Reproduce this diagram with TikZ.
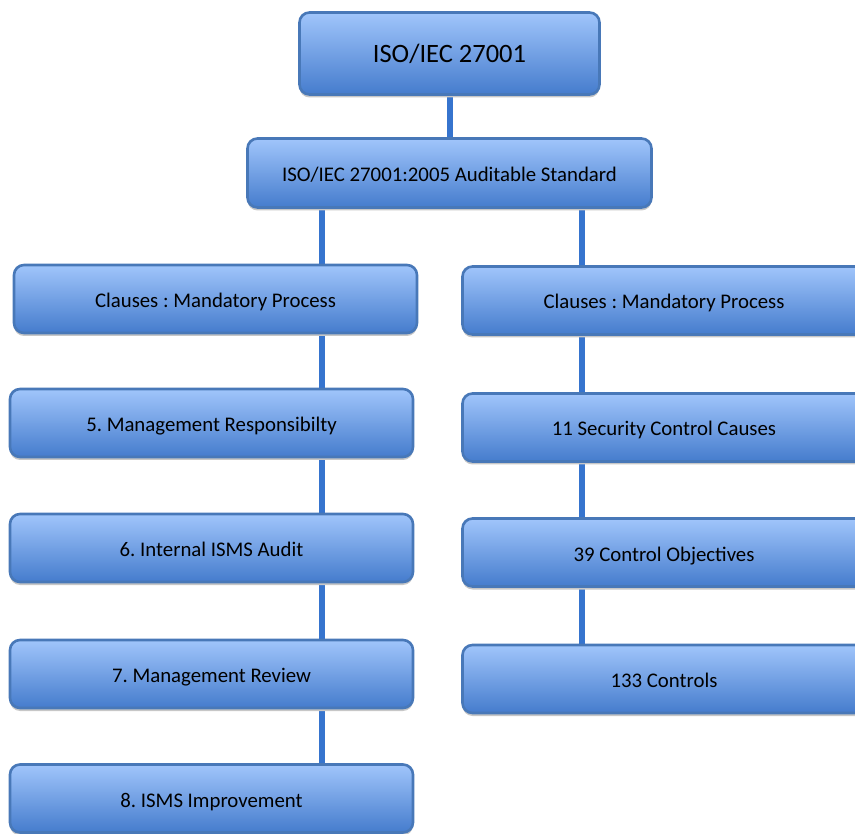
\documentclass[tikz,border=0pt]{standalone}
\usepackage{fontspec}
\setmainfont{Carlito}
\usetikzlibrary{shadows}
\pgfdeclarelayer{back}
\pgfsetlayers{back,main}
\definecolor{boxtop}{HTML}{A0C5FB}
\definecolor{boxbot}{HTML}{457CCD}
\definecolor{boxline}{HTML}{4878B8}
\definecolor{linkblue}{HTML}{3674CE}
\tikzset{
  card/.style={draw=boxline, line width=2.6pt, rounded corners=10pt,
    top color=boxtop, bottom color=boxbot, text=black,
    minimum width=403pt, minimum height=68pt, inner sep=0pt,
    text height=17pt, text depth=0pt,
    font=\fontsize{20.8}{24}\selectfont,
    drop shadow={shadow xshift=0pt, shadow yshift=-3pt, fill=black!22, opacity=1}},
  link/.style={draw=linkblue, line width=6pt, line cap=round}
}
\begin{document}
\frenchspacing
\begin{tikzpicture}[x=1pt, y=-1pt]
\useasboundingbox (0,0) rectangle (855,834);
\clip (0,0) rectangle (855,834);
% top of the hierarchy
\node[card, minimum width=300pt, minimum height=82pt, text height=19pt,
      font=\fontsize{26.5}{30}\selectfont] (std) at (449.5,53.5) {ISO/IEC 27001};
\node[card, minimum width=404pt, minimum height=69pt] (aud) at (449.5,173) {ISO/IEC 27001:2005 Auditable Standard};
% left column: mandatory clauses
\node[card] (l1) at (215.5,299) {Clauses : Mandatory Process};
\node[card] (l2) at (211.5,423) {5. Management Responsibilty};
\node[card] (l3) at (211.5,548) {6. Internal ISMS Audit};
\node[card] (l4) at (211.5,674) {7. Management Review};
\node[card] (l5) at (211.5,798.5) {8. ISMS Improvement};
% right column: controls
\node[card] (r1) at (664,300.5) {Clauses : Mandatory Process};
\node[card] (r2) at (664,427.5) {11 Security Control Causes};
\node[card] (r3) at (664,552.5) {39 Control Objectives};
\node[card] (r4) at (664,679) {133 Controls};
% connectors behind the boxes
\begin{pgfonlayer}{back}
\draw[link] (std.center) -- (aud.center);
\draw[link] (aud.center -| 322,0) -- (l5.center -| 322,0);
\draw[link] (aud.center -| 582,0) -- (r4.center -| 582,0);
\end{pgfonlayer}
\end{tikzpicture}
\end{document}
